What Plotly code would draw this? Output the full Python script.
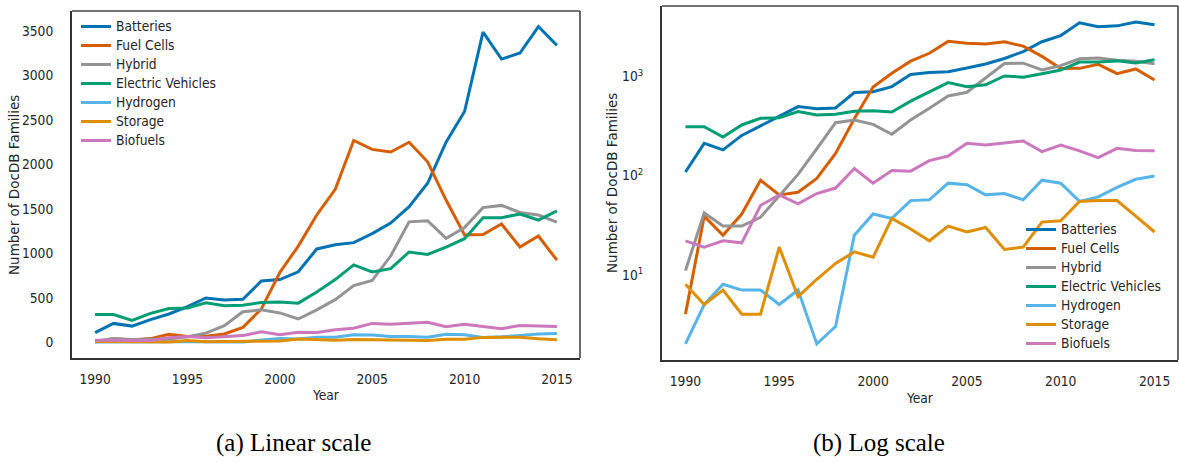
import plotly.graph_objects as go

years = list(range(1990, 2016))

batteries = [109, 212, 182, 255, 318, 400, 498, 475, 483, 690, 705, 793, 1050, 1098, 1121, 1222, 1341, 1525, 1789, 2252, 2596, 3489, 3186, 3254, 3552, 3340]
fuel_cells = [4, 39, 25, 41, 90, 64, 68, 94, 168, 375, 785, 1082, 1432, 1720, 2270, 2170, 2140, 2250, 2030, 1600, 1208, 1212, 1330, 1072, 1195, 924]
hybrid = [11, 42, 31, 31, 38, 62, 103, 187, 343, 365, 330, 262, 365, 479, 638, 695, 970, 1355, 1368, 1170, 1290, 1515, 1540, 1460, 1432, 1352]
electric_vehicles = [312, 312, 245, 325, 380, 385, 443, 410, 417, 447, 452, 440, 565, 705, 870, 792, 828, 1016, 988, 1070, 1165, 1402, 1402, 1442, 1375, 1478]
hydrogen = [2, 5, 8, 7, 7, 5, 7, 2, 3, 25, 41, 37, 56, 57, 84, 81, 64, 66, 57, 90, 84, 55, 61, 76, 92, 99]
storage = [8, 5, 7, 4, 4, 19, 6, 9, 13, 17, 15, 37, 29, 22, 31, 27, 30, 18, 19, 34, 35, 55, 56, 56, 39, 27]
biofuels = [22, 19, 22, 21, 50, 64, 52, 66, 75, 118, 84, 113, 111, 142, 158, 212, 204, 215, 224, 175, 204, 178, 152, 189, 180, 178]

series_names = ["Batteries", "Fuel Cells", "Hybrid", "Electric Vehicles", "Hydrogen", "Storage", "Biofuels"]
series_values = [batteries, fuel_cells, hybrid, electric_vehicles, hydrogen, storage, biofuels]
series_colors = ["#0173B2", "#D55E00", "#949494", "#029E73", "#56B4E9", "#DE8F05", "#CC78BC"]

x_ticks = [1990, 1995, 2000, 2005, 2010, 2015]
lin_ticks = [0, 500, 1000, 1500, 2000, 2500, 3000, 3500]
log_ticks = [10, 100, 1000]
log_ticktext = ["10<sup>1</sup>", "10<sup>2</sup>", "10<sup>3</sup>"]

W, H = 1179, 463
FONT = "DejaVu Sans Condensed, DejaVu Sans"
FONT_V = "DejaVu Sans"
FS = 13.7
TXT = "#262626"

def px_x(p):
    return p / W

def px_y(p):
    return 1 - p / H

def legend_label(name):
    return '<span style="font-size:%spx">%s</span>' % (FS, name)

fig = go.Figure()

for name, vals, col in zip(series_names, series_values, series_colors):
    fig.add_trace(go.Scatter(x=years, y=vals, mode="lines", name=legend_label(name),
                             line=dict(color=col, width=3), xaxis="x", yaxis="y",
                             legend="legend"))
for name, vals, col in zip(series_names, series_values, series_colors):
    fig.add_trace(go.Scatter(x=years, y=vals, mode="lines", name=legend_label(name),
                             line=dict(color=col, width=3), xaxis="x2", yaxis="y2",
                             legend="legend2"))

L1 = (72, 580, 11, 358)
L2 = (662, 1178, 6, 360)

axis_common = dict(showgrid=False, zeroline=False, ticks="", showline=True,
                   linecolor="#333333", linewidth=2,
                   tickfont=dict(family=FONT, size=FS, color=TXT))

leg_common = dict(xanchor="left", yanchor="top", bgcolor="rgba(0,0,0,0)", borderwidth=0,
                  font=dict(family=FONT, size=11.3, color=TXT), tracegroupgap=0)

fig.update_layout(
    width=W, height=H,
    margin=dict(l=0, r=0, t=0, b=0),
    paper_bgcolor="white", plot_bgcolor="white",
    font=dict(family=FONT, color=TXT),
    xaxis=dict(domain=[px_x(L1[0]), px_x(L1[1])], range=[1988.75, 2016.25],
               tickvals=x_ticks, anchor="y", ticklabelstandoff=8, **axis_common),
    yaxis=dict(domain=[px_y(L1[3]), px_y(L1[2])], range=[-177, 3727],
               tickvals=lin_ticks, anchor="x", ticklabelstandoff=14, **axis_common),
    xaxis2=dict(domain=[px_x(L2[0]), px_x(L2[1])], range=[1988.75, 2016.25],
                tickvals=x_ticks, anchor="y2", ticklabelstandoff=8, **axis_common),
    yaxis2=dict(domain=[px_y(L2[3]), px_y(L2[2])], type="log", range=[0.139, 3.713],
                tickvals=log_ticks, ticktext=log_ticktext, anchor="x2",
                ticklabelstandoff=14, **axis_common),
    legend=dict(x=px_x(76), y=px_y(12), **leg_common),
    legend2=dict(x=px_x(1021), y=px_y(215), **leg_common),
)

# top / right frame lines
for (l, r, t, b) in (L1, L2):
    fig.add_shape(type="line", xref="paper", yref="paper",
                  x0=px_x(l), x1=px_x(r), y0=px_y(t), y1=px_y(t),
                  line=dict(color="#444444", width=1.6))
    fig.add_shape(type="line", xref="paper", yref="paper",
                  x0=px_x(r), x1=px_x(r), y0=px_y(t), y1=px_y(b),
                  line=dict(color="#444444", width=1.6))

annots = [
    dict(text="Year", x=px_x(326), y=px_y(395), fam=FONT, size=FS),
    dict(text="Year", x=px_x(920), y=px_y(398), fam=FONT, size=FS),
    dict(text="Number of DocDB Families", x=px_x(14), y=px_y(185), angle=-90, fam=FONT_V, size=13.5),
    dict(text="Number of DocDB Families", x=px_x(612), y=px_y(183), angle=-90, fam=FONT_V, size=13.5),
]
for a in annots:
    fig.add_annotation(text=a["text"], x=a["x"], y=a["y"], xref="paper", yref="paper",
                       showarrow=False, xanchor="center", yanchor="middle",
                       textangle=a.get("angle", 0),
                       font=dict(family=a["fam"], size=a["size"], color=TXT))

captions = [("(a) Linear scale", 293), ("(b) Log scale", 879)]
for text, cx in captions:
    fig.add_annotation(text=text, x=px_x(cx), y=px_y(443), xref="paper", yref="paper",
                       showarrow=False, xanchor="center", yanchor="middle",
                       font=dict(family="Liberation Serif", size=25, color="black"))

fig.write_html("out.html", config={"displayModeBar": False},
               post_script="document.body.style.margin='0';")
